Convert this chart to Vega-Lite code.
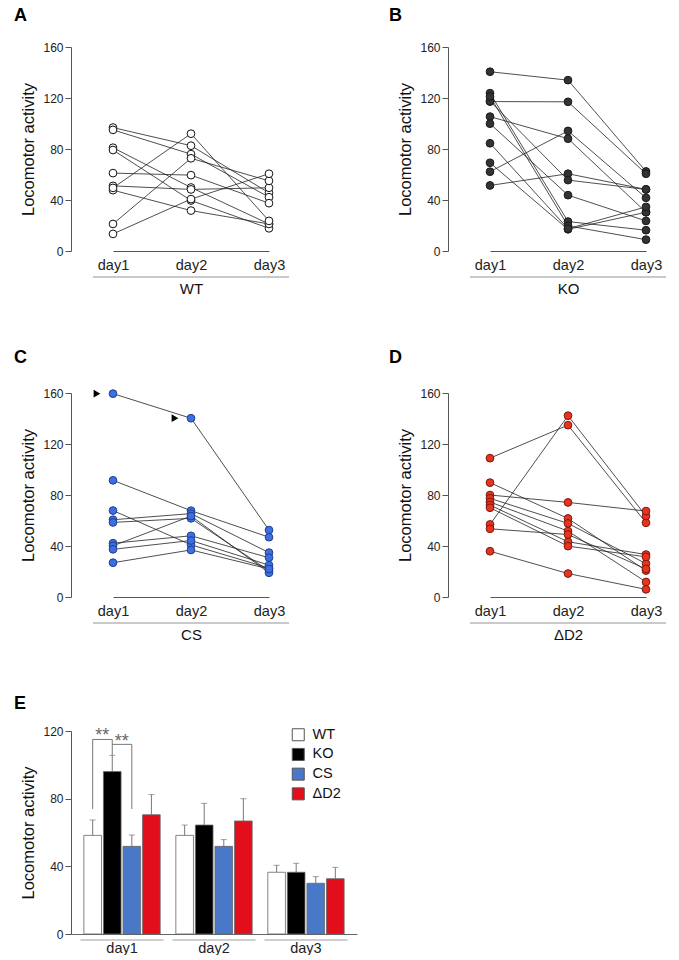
{
  "$schema": "https://vega.github.io/schema/vega-lite/v6.json",
  "padding": {"left": 13, "top": 7, "right": 5, "bottom": 0},
  "background": "white",
  "spacing": 52,
  "resolve": {"legend": {"color": "independent"}},
  "config": {
    "font": "Liberation Sans",
    "view": {"stroke": null},
    "title": {"fontSize": 18, "fontWeight": "bold", "anchor": "start", "frame": "bounds", "font": "Liberation Sans", "offset": 16, "dx": -7, "color": "#000"},
    "axis": {"grid": false, "labelFont": "Liberation Sans", "titleFont": "Liberation Sans", "titleFontWeight": "normal", "domainColor": "#555", "tickColor": "#555", "labelColor": "#222", "titleColor": "#111"},
    "axisX": {"ticks": false, "labelFontSize": 14.5, "labelPadding": 7, "titleFontSize": 15, "titlePadding": 10, "labelAngle": 0},
    "axisY": {"tickSize": 6, "labelFontSize": 12, "labelPadding": 2, "titleFontSize": 16.5, "titlePadding": 6},
    "legend": {"labelFont": "Liberation Sans"}
  },
  "datasets": {
    "indiv": [
      {"g": "WT", "s": 1, "day": "day1", "v": 96.8}, {"g": "WT", "s": 1, "day": "day2", "v": 82.6}, {"g": "WT", "s": 1, "day": "day3", "v": 45.6},
      {"g": "WT", "s": 2, "day": "day1", "v": 95}, {"g": "WT", "s": 2, "day": "day2", "v": 76}, {"g": "WT", "s": 2, "day": "day3", "v": 42.2},
      {"g": "WT", "s": 3, "day": "day1", "v": 81}, {"g": "WT", "s": 3, "day": "day2", "v": 49.8}, {"g": "WT", "s": 3, "day": "day3", "v": 21.2},
      {"g": "WT", "s": 4, "day": "day1", "v": 79.2}, {"g": "WT", "s": 4, "day": "day2", "v": 39.6}, {"g": "WT", "s": 4, "day": "day3", "v": 17.8},
      {"g": "WT", "s": 5, "day": "day1", "v": 61.1}, {"g": "WT", "s": 5, "day": "day2", "v": 59.5}, {"g": "WT", "s": 5, "day": "day3", "v": 37.5},
      {"g": "WT", "s": 6, "day": "day1", "v": 51.1}, {"g": "WT", "s": 6, "day": "day2", "v": 48.3}, {"g": "WT", "s": 6, "day": "day3", "v": 49.6},
      {"g": "WT", "s": 7, "day": "day1", "v": 47.7}, {"g": "WT", "s": 7, "day": "day2", "v": 31.7}, {"g": "WT", "s": 7, "day": "day3", "v": 21.2},
      {"g": "WT", "s": 8, "day": "day1", "v": 49.5}, {"g": "WT", "s": 8, "day": "day2", "v": 92}, {"g": "WT", "s": 8, "day": "day3", "v": 23.6},
      {"g": "WT", "s": 9, "day": "day1", "v": 21.2}, {"g": "WT", "s": 9, "day": "day2", "v": 72.7}, {"g": "WT", "s": 9, "day": "day3", "v": 55},
      {"g": "WT", "s": 10, "day": "day1", "v": 13.4}, {"g": "WT", "s": 10, "day": "day2", "v": 40.7}, {"g": "WT", "s": 10, "day": "day3", "v": 60.6},
      {"g": "KO", "s": 1, "day": "day1", "v": 140.6}, {"g": "KO", "s": 1, "day": "day2", "v": 134}, {"g": "KO", "s": 1, "day": "day3", "v": 62.4},
      {"g": "KO", "s": 2, "day": "day1", "v": 117.2}, {"g": "KO", "s": 2, "day": "day2", "v": 117}, {"g": "KO", "s": 2, "day": "day3", "v": 60.6},
      {"g": "KO", "s": 3, "day": "day1", "v": 62.2}, {"g": "KO", "s": 3, "day": "day2", "v": 94.2}, {"g": "KO", "s": 3, "day": "day3", "v": 41.7},
      {"g": "KO", "s": 4, "day": "day1", "v": 105.4}, {"g": "KO", "s": 4, "day": "day2", "v": 88.1}, {"g": "KO", "s": 4, "day": "day3", "v": 30.4},
      {"g": "KO", "s": 5, "day": "day1", "v": 51.4}, {"g": "KO", "s": 5, "day": "day2", "v": 60.6}, {"g": "KO", "s": 5, "day": "day3", "v": 48.3},
      {"g": "KO", "s": 6, "day": "day1", "v": 117.5}, {"g": "KO", "s": 6, "day": "day2", "v": 55.6}, {"g": "KO", "s": 6, "day": "day3", "v": 48.3},
      {"g": "KO", "s": 7, "day": "day1", "v": 99.9}, {"g": "KO", "s": 7, "day": "day2", "v": 43.8}, {"g": "KO", "s": 7, "day": "day3", "v": 23.6},
      {"g": "KO", "s": 8, "day": "day1", "v": 123.8}, {"g": "KO", "s": 8, "day": "day2", "v": 23.1}, {"g": "KO", "s": 8, "day": "day3", "v": 16.3},
      {"g": "KO", "s": 9, "day": "day1", "v": 121.2}, {"g": "KO", "s": 9, "day": "day2", "v": 19.7}, {"g": "KO", "s": 9, "day": "day3", "v": 8.9},
      {"g": "KO", "s": 10, "day": "day1", "v": 69.2}, {"g": "KO", "s": 10, "day": "day2", "v": 17}, {"g": "KO", "s": 10, "day": "day3", "v": 30.4},
      {"g": "KO", "s": 11, "day": "day1", "v": 84.5}, {"g": "KO", "s": 11, "day": "day2", "v": 17.5}, {"g": "KO", "s": 11, "day": "day3", "v": 34.6},
      {"g": "CS", "s": 1, "day": "day1", "v": 159.5}, {"g": "CS", "s": 1, "day": "day2", "v": 140.2}, {"g": "CS", "s": 1, "day": "day3", "v": 52.5},
      {"g": "CS", "s": 2, "day": "day1", "v": 91.5}, {"g": "CS", "s": 2, "day": "day2", "v": 67.7}, {"g": "CS", "s": 2, "day": "day3", "v": 46.9},
      {"g": "CS", "s": 3, "day": "day1", "v": 67.8}, {"g": "CS", "s": 3, "day": "day2", "v": 40.9}, {"g": "CS", "s": 3, "day": "day3", "v": 22.7},
      {"g": "CS", "s": 4, "day": "day1", "v": 60.6}, {"g": "CS", "s": 4, "day": "day2", "v": 65.4}, {"g": "CS", "s": 4, "day": "day3", "v": 34.8},
      {"g": "CS", "s": 5, "day": "day1", "v": 58.5}, {"g": "CS", "s": 5, "day": "day2", "v": 61.7}, {"g": "CS", "s": 5, "day": "day3", "v": 20.6},
      {"g": "CS", "s": 6, "day": "day1", "v": 42.2}, {"g": "CS", "s": 6, "day": "day2", "v": 48}, {"g": "CS", "s": 6, "day": "day3", "v": 30.8},
      {"g": "CS", "s": 7, "day": "day1", "v": 40.1}, {"g": "CS", "s": 7, "day": "day2", "v": 63.5}, {"g": "CS", "s": 7, "day": "day3", "v": 19},
      {"g": "CS", "s": 8, "day": "day1", "v": 37.4}, {"g": "CS", "s": 8, "day": "day2", "v": 44.3}, {"g": "CS", "s": 8, "day": "day3", "v": 25},
      {"g": "CS", "s": 9, "day": "day1", "v": 26.9}, {"g": "CS", "s": 9, "day": "day2", "v": 36.9}, {"g": "CS", "s": 9, "day": "day3", "v": 22},
      {"g": "ΔD2", "s": 1, "day": "day1", "v": 108.9}, {"g": "ΔD2", "s": 1, "day": "day2", "v": 134.8}, {"g": "ΔD2", "s": 1, "day": "day3", "v": 58.2},
      {"g": "ΔD2", "s": 2, "day": "day1", "v": 56.9}, {"g": "ΔD2", "s": 2, "day": "day2", "v": 142.2}, {"g": "ΔD2", "s": 2, "day": "day3", "v": 63.5},
      {"g": "ΔD2", "s": 3, "day": "day1", "v": 80}, {"g": "ΔD2", "s": 3, "day": "day2", "v": 74.2}, {"g": "ΔD2", "s": 3, "day": "day3", "v": 67.4},
      {"g": "ΔD2", "s": 4, "day": "day1", "v": 89.7}, {"g": "ΔD2", "s": 4, "day": "day2", "v": 61.6}, {"g": "ΔD2", "s": 4, "day": "day3", "v": 20.7},
      {"g": "ΔD2", "s": 5, "day": "day1", "v": 77.4}, {"g": "ΔD2", "s": 5, "day": "day2", "v": 57.7}, {"g": "ΔD2", "s": 5, "day": "day3", "v": 26.2},
      {"g": "ΔD2", "s": 6, "day": "day1", "v": 74.5}, {"g": "ΔD2", "s": 6, "day": "day2", "v": 51.7}, {"g": "ΔD2", "s": 6, "day": "day3", "v": 11.8},
      {"g": "ΔD2", "s": 7, "day": "day1", "v": 72.1}, {"g": "ΔD2", "s": 7, "day": "day2", "v": 43.3}, {"g": "ΔD2", "s": 7, "day": "day3", "v": 33.3},
      {"g": "ΔD2", "s": 8, "day": "day1", "v": 70}, {"g": "ΔD2", "s": 8, "day": "day2", "v": 39.9}, {"g": "ΔD2", "s": 8, "day": "day3", "v": 31.5},
      {"g": "ΔD2", "s": 9, "day": "day1", "v": 53.5}, {"g": "ΔD2", "s": 9, "day": "day2", "v": 49}, {"g": "ΔD2", "s": 9, "day": "day3", "v": 22},
      {"g": "ΔD2", "s": 10, "day": "day1", "v": 35.9}, {"g": "ΔD2", "s": 10, "day": "day2", "v": 18.4}, {"g": "ΔD2", "s": 10, "day": "day3", "v": 6}
    ],
    "arrows": [
      {"g": "CS", "day": "day1", "v": 159.5},
      {"g": "CS", "day": "day2", "v": 140.2}
    ],
    "means": [
      {"day": "day1", "gt": "WT", "mean": 58.3, "upper": 67.4},
      {"day": "day1", "gt": "KO", "mean": 96, "upper": 105.6},
      {"day": "day1", "gt": "CS", "mean": 51.8, "upper": 58.5},
      {"day": "day1", "gt": "ΔD2", "mean": 70.5, "upper": 82.4},
      {"day": "day2", "gt": "WT", "mean": 58.3, "upper": 64.4},
      {"day": "day2", "gt": "KO", "mean": 64.4, "upper": 77.2},
      {"day": "day2", "gt": "CS", "mean": 51.8, "upper": 55.8},
      {"day": "day2", "gt": "ΔD2", "mean": 66.8, "upper": 80},
      {"day": "day3", "gt": "WT", "mean": 36.5, "upper": 40.6},
      {"day": "day3", "gt": "KO", "mean": 36.5, "upper": 41.8},
      {"day": "day3", "gt": "CS", "mean": 30, "upper": 33.9},
      {"day": "day3", "gt": "ΔD2", "mean": 32.7, "upper": 39.4}
    ],
    "brackets": [
      {"b": 1, "o": 1, "day": "day1", "gt": "WT", "v": 73.9},
      {"b": 1, "o": 2, "day": "day1", "gt": "WT", "v": 115},
      {"b": 1, "o": 3, "day": "day1", "gt": "KO", "v": 115},
      {"b": 1, "o": 4, "day": "day1", "gt": "KO", "v": 105.6},
      {"b": 2, "o": 1, "day": "day1", "gt": "KO", "v": 112.1},
      {"b": 2, "o": 2, "day": "day1", "gt": "CS", "v": 112.1},
      {"b": 2, "o": 3, "day": "day1", "gt": "CS", "v": 73.9}
    ],
    "stars": [
      {"day": "day1", "gt": "KO", "v": 117, "t": "**"},
      {"day": "day1", "gt": "CS", "v": 113.3, "t": "**"}
    ],
    "groups": [
      {"day": "day1"}, {"day": "day2"}, {"day": "day3"}
    ]
  },
  "vconcat": [
    {
      "spacing": 84,
      "hconcat": [
        {
          "title": {"text": "A"},
          "width": 233, "height": 204,
          "layer": [
            {"data": {"name": "indiv"}, "transform": [{"filter": "datum.g === 'WT'"}],
             "mark": {"type": "line", "color": "#222", "strokeWidth": 0.8},
             "encoding": {
               "x": {"field": "day", "type": "ordinal", "scale": {"type": "point", "domain": ["day1", "day2", "day3"], "range": [42, 198], "padding": 0}, "axis": {"title": "WT"}},
               "y": {"field": "v", "type": "quantitative", "scale": {"domain": [0, 160], "nice": false}, "axis": {"values": [0, 20, 40, 60, 80, 100, 120, 140, 160], "labelExpr": "datum.value % 40 === 0 ? datum.label : ''", "title": "Locomotor activity"}},
               "detail": {"field": "s"}}},
            {"data": {"name": "indiv"}, "transform": [{"filter": "datum.g === 'WT'"}],
             "mark": {"type": "point", "filled": true, "fill": "#ffffff", "stroke": "#111", "strokeWidth": 1, "size": 60, "opacity": 1},
             "encoding": {
               "x": {"field": "day", "type": "ordinal", "axis": {"title": "WT"}},
               "y": {"field": "v", "type": "quantitative", "title": "Locomotor activity"}}},
            {"data": {"values": [{"u": 1}]},
             "mark": {"type": "tick", "orient": "horizontal", "size": 196, "thickness": 1, "color": "#666", "yOffset": 26},
             "encoding": {"x": {"datum": "day2", "type": "ordinal"}, "y": {"datum": 0, "type": "quantitative"}}}
          ]
        },
        {
          "title": {"text": "B", "dx": -9},
          "width": 232, "height": 204,
          "layer": [
            {"data": {"name": "indiv"}, "transform": [{"filter": "datum.g === 'KO'"}],
             "mark": {"type": "line", "color": "#222", "strokeWidth": 0.8},
             "encoding": {
               "x": {"field": "day", "type": "ordinal", "scale": {"type": "point", "domain": ["day1", "day2", "day3"], "range": [42, 198], "padding": 0}, "axis": {"title": "KO"}},
               "y": {"field": "v", "type": "quantitative", "scale": {"domain": [0, 160], "nice": false}, "axis": {"values": [0, 20, 40, 60, 80, 100, 120, 140, 160], "labelExpr": "datum.value % 40 === 0 ? datum.label : ''", "title": "Locomotor activity"}},
               "detail": {"field": "s"}}},
            {"data": {"name": "indiv"}, "transform": [{"filter": "datum.g === 'KO'"}],
             "mark": {"type": "point", "filled": true, "fill": "#333333", "stroke": "#1a1a1a", "strokeWidth": 1, "size": 60, "opacity": 1},
             "encoding": {
               "x": {"field": "day", "type": "ordinal", "axis": {"title": "KO"}},
               "y": {"field": "v", "type": "quantitative", "title": "Locomotor activity"}}},
            {"data": {"values": [{"u": 1}]},
             "mark": {"type": "tick", "orient": "horizontal", "size": 196, "thickness": 1, "color": "#666", "yOffset": 26},
             "encoding": {"x": {"datum": "day2", "type": "ordinal"}, "y": {"datum": 0, "type": "quantitative"}}}
          ]
        }
      ]
    },
    {
      "spacing": 84,
      "hconcat": [
        {
          "title": {"text": "C", "offset": 20},
          "width": 233, "height": 204,
          "layer": [
            {"data": {"name": "indiv"}, "transform": [{"filter": "datum.g === 'CS'"}],
             "mark": {"type": "line", "color": "#222", "strokeWidth": 0.8},
             "encoding": {
               "x": {"field": "day", "type": "ordinal", "scale": {"type": "point", "domain": ["day1", "day2", "day3"], "range": [42, 198], "padding": 0}, "axis": {"title": "CS"}},
               "y": {"field": "v", "type": "quantitative", "scale": {"domain": [0, 160], "nice": false}, "axis": {"values": [0, 20, 40, 60, 80, 100, 120, 140, 160], "labelExpr": "datum.value % 40 === 0 ? datum.label : ''", "title": "Locomotor activity"}},
               "detail": {"field": "s"}}},
            {"data": {"name": "indiv"}, "transform": [{"filter": "datum.g === 'CS'"}],
             "mark": {"type": "point", "filled": true, "fill": "#3d6fe0", "stroke": "#1f3f8f", "strokeWidth": 1, "size": 60, "opacity": 1},
             "encoding": {
               "x": {"field": "day", "type": "ordinal", "axis": {"title": "CS"}},
               "y": {"field": "v", "type": "quantitative", "title": "Locomotor activity"}}},
            {"data": {"name": "arrows"},
             "mark": {"type": "point", "shape": "triangle-right", "filled": true, "color": "#000", "size": 60, "opacity": 1, "xOffset": -16},
             "encoding": {
               "x": {"field": "day", "type": "ordinal"},
               "y": {"field": "v", "type": "quantitative"}}},
            {"data": {"values": [{"u": 1}]},
             "mark": {"type": "tick", "orient": "horizontal", "size": 196, "thickness": 1, "color": "#666", "yOffset": 26},
             "encoding": {"x": {"datum": "day2", "type": "ordinal"}, "y": {"datum": 0, "type": "quantitative"}}}
          ]
        },
        {
          "title": {"text": "D", "dx": -9, "offset": 20},
          "width": 232, "height": 204,
          "layer": [
            {"data": {"name": "indiv"}, "transform": [{"filter": "datum.g === 'ΔD2'"}],
             "mark": {"type": "line", "color": "#222", "strokeWidth": 0.8},
             "encoding": {
               "x": {"field": "day", "type": "ordinal", "scale": {"type": "point", "domain": ["day1", "day2", "day3"], "range": [42, 198], "padding": 0}, "axis": {"title": "ΔD2"}},
               "y": {"field": "v", "type": "quantitative", "scale": {"domain": [0, 160], "nice": false}, "axis": {"values": [0, 20, 40, 60, 80, 100, 120, 140, 160], "labelExpr": "datum.value % 40 === 0 ? datum.label : ''", "title": "Locomotor activity"}},
               "detail": {"field": "s"}}},
            {"data": {"name": "indiv"}, "transform": [{"filter": "datum.g === 'ΔD2'"}],
             "mark": {"type": "point", "filled": true, "fill": "#e8341f", "stroke": "#7a1a10", "strokeWidth": 1, "size": 60, "opacity": 1},
             "encoding": {
               "x": {"field": "day", "type": "ordinal", "axis": {"title": "ΔD2"}},
               "y": {"field": "v", "type": "quantitative", "title": "Locomotor activity"}}},
            {"data": {"values": [{"u": 1}]},
             "mark": {"type": "tick", "orient": "horizontal", "size": 196, "thickness": 1, "color": "#666", "yOffset": 26},
             "encoding": {"x": {"datum": "day2", "type": "ordinal"}, "y": {"datum": 0, "type": "quantitative"}}}
          ]
        }
      ]
    },
    {
      "title": {"text": "E", "offset": 12},
      "width": 286, "height": 203,
      "layer": [
        {"data": {"name": "means"},
         "mark": {"type": "bar", "stroke": "#666", "strokeWidth": 0.8},
         "encoding": {
           "x": {"field": "day", "type": "nominal", "scale": {"domain": ["day1", "day2", "day3"], "paddingInner": 0.17, "paddingOuter": 0.14}, "axis": {"title": null, "labelFontSize": 14.5, "labelPadding": 7, "ticks": false, "domainColor": "#666"}},
           "xOffset": {"field": "gt", "type": "nominal", "scale": {"domain": ["WT", "KO", "CS", "ΔD2"], "paddingInner": 0.1, "paddingOuter": 0}},
           "y": {"field": "mean", "type": "quantitative", "scale": {"domain": [0, 120], "nice": false}, "axis": {"values": [0, 20, 40, 60, 80, 100, 120], "labelExpr": "datum.value % 40 === 0 ? datum.label : ''"}, "title": "Locomotor activity"},
           "color": {"field": "gt", "type": "nominal", "scale": {"domain": ["WT", "KO", "CS", "ΔD2"], "range": ["#ffffff", "#000000", "#4a78c8", "#e30e1b"]},
             "legend": {"title": null, "orient": "none", "legendX": 220, "legendY": -3.5, "symbolType": "square", "symbolSize": 144, "symbolOpacity": 1, "symbolStrokeColor": "#555", "symbolStrokeWidth": 1, "labelFontSize": 14.5, "labelColor": "#111", "rowPadding": 2.7, "labelOffset": 7}}}},
        {"data": {"name": "means"},
         "mark": {"type": "rule", "color": "#777", "strokeWidth": 1},
         "encoding": {
           "x": {"field": "day", "type": "nominal", "title": null},
           "xOffset": {"field": "gt", "type": "nominal"},
           "y": {"field": "mean", "type": "quantitative", "title": "Locomotor activity"},
           "y2": {"field": "upper"}}},
        {"data": {"name": "means"},
         "mark": {"type": "tick", "orient": "horizontal", "size": 6, "thickness": 1, "color": "#777"},
         "encoding": {
           "x": {"field": "day", "type": "nominal", "title": null},
           "xOffset": {"field": "gt", "type": "nominal"},
           "y": {"field": "upper", "type": "quantitative", "title": "Locomotor activity"}}},
        {"data": {"name": "brackets"},
         "mark": {"type": "line", "color": "#777", "strokeWidth": 1},
         "encoding": {
           "x": {"field": "day", "type": "nominal", "title": null},
           "xOffset": {"field": "gt", "type": "nominal"},
           "y": {"field": "v", "type": "quantitative", "title": "Locomotor activity"},
           "detail": {"field": "b"},
           "order": {"field": "o"}}},
        {"data": {"name": "stars"},
         "mark": {"type": "text", "fontSize": 18, "color": "#666", "dx": -10, "baseline": "middle"},
         "encoding": {
           "x": {"field": "day", "type": "nominal", "title": null},
           "xOffset": {"field": "gt", "type": "nominal"},
           "y": {"field": "v", "type": "quantitative", "title": "Locomotor activity"},
           "text": {"field": "t"}}},
        {"data": {"name": "groups"},
         "mark": {"type": "tick", "orient": "horizontal", "size": 83, "thickness": 1, "color": "#777", "yOffset": 6},
         "encoding": {
           "x": {"field": "day", "type": "nominal", "title": null},
           "y": {"datum": 0, "type": "quantitative"}}}
      ]
    }
  ]
}
